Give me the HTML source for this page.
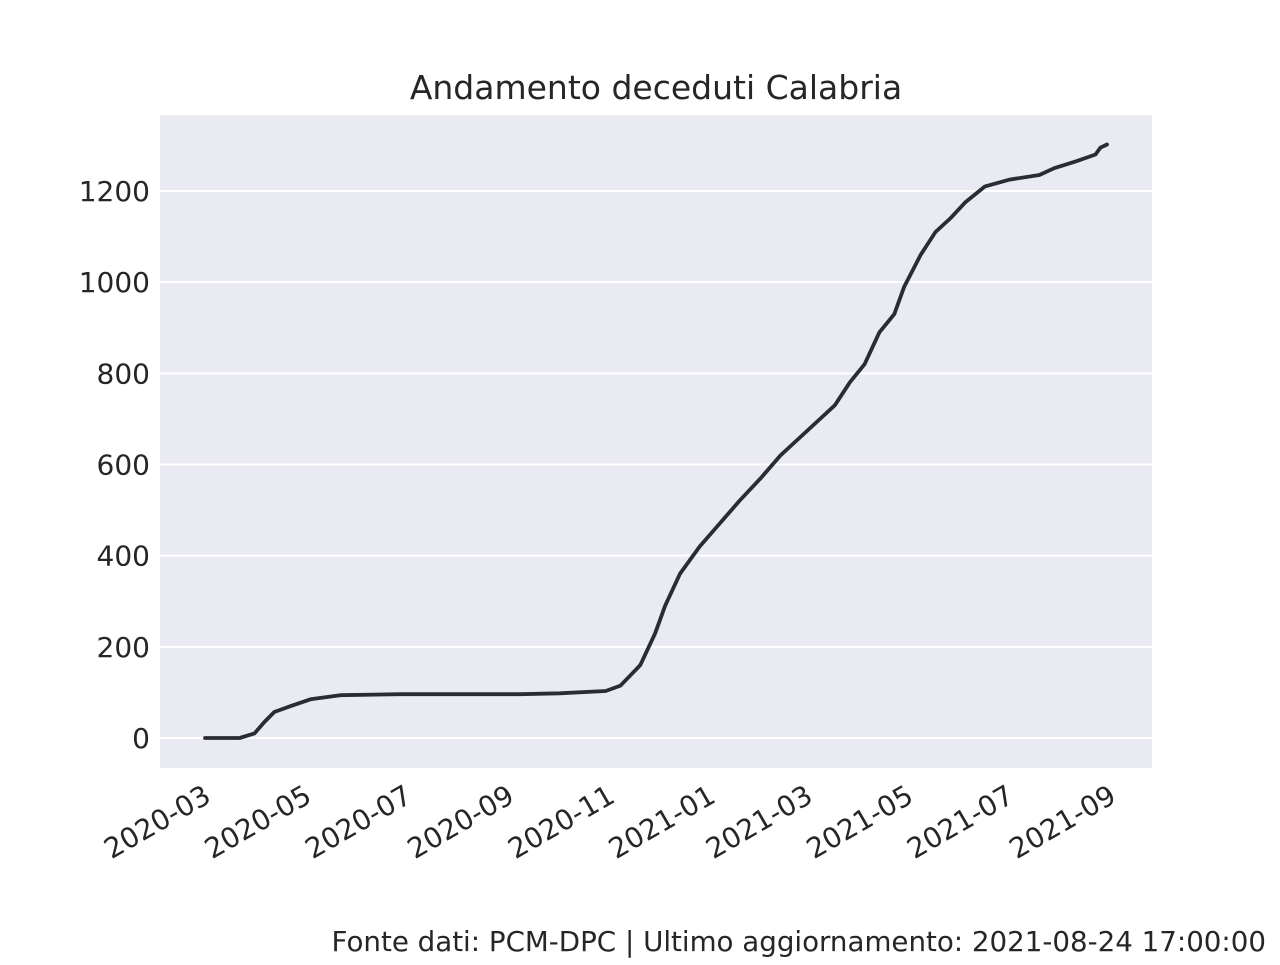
<!DOCTYPE html>
<html><head><meta charset="utf-8">
<style>
html,body{margin:0;padding:0;background:#fff;}
svg text{font-family:"DejaVu Sans","Liberation Sans",sans-serif;fill:#262626;}
</style></head>
<body>
<svg id="chart" width="1280" height="960">
  <rect x="160" y="115" width="992" height="653" fill="#eaeaf2"/>
  <text x="656" y="99" font-size="33" text-anchor="middle">Andamento deceduti Calabria</text>
  <text x="1266" y="951" font-size="27.7" text-anchor="end">Fonte dati: PCM-DPC | Ultimo aggiornamento: 2021-08-24 17:00:00</text>
  <g id="grid"></g><g id="yticks"></g><g id="xticks"></g><g id="series"></g>
</svg>
<script>
// days since 2020-02-24
const dayOffsets = [0,21,30,36,42,52,64,82,118,191,215,243,252,264,273,279,288,300,312,324,337,349,361,373,382,391,400,409,418,424,434,443,452,461,473,488,506,515,528,540,543,547];
const deaths =     [0,0,10,35,57,70,85,94,96,96,98,103,115,160,230,290,360,420,470,520,570,620,660,700,730,780,820,890,930,990,1060,1110,1140,1175,1210,1225,1235,1250,1265,1280,1295,1302];
const yTicks = [0,200,400,600,800,1000,1200];
const xTickLabels = ["2020-03","2020-05","2020-07","2020-09","2020-11","2021-01","2021-03","2021-05","2021-07","2021-09"];
const xTickDays = [6,67,128,190,251,312,371,432,493,555];

const NS="http://www.w3.org/2000/svg";
function xScale(d){return 205 + d*(1107-205)/547;}
function yScale(v){return 738 - v*(738-191)/1200;}
function mk(tag,attrs,parent){const e=document.createElementNS(NS,tag);for(const k in attrs)e.setAttribute(k,attrs[k]);parent.appendChild(e);return e;}

const grid=document.getElementById('grid'), yt=document.getElementById('yticks'), xt=document.getElementById('xticks'), ser=document.getElementById('series');
yTicks.forEach(v=>{
  const y=yScale(v);
  const l=mk('line',{x1:160,x2:1152,y1:y,y2:y,stroke:'#fff','stroke-width':2},grid);
  
  
  const t=mk('text',{x:150,y:y+10,'font-size':28,'text-anchor':'end'},yt);
  t.textContent=v;
  
  
});
xTickLabels.forEach((lab,i)=>{
  const x=xScale(xTickDays[i])-12;
  const t=mk('text',{x:x,y:784,'font-size':28,'text-anchor':'end',transform:`rotate(-30 ${x} 784)`,dy:'0.7em'},xt);
  t.textContent=lab;
  
  
});
const pts=dayOffsets.map((d,i)=>xScale(d).toFixed(1)+','+yScale(deaths[i]).toFixed(1)).join(' ');
const pl=mk('polyline',{points:pts,fill:'none',stroke:'#2a2c33','stroke-width':3.8,'stroke-linejoin':'round','stroke-linecap':'round'},ser);


</script>
</body></html>
